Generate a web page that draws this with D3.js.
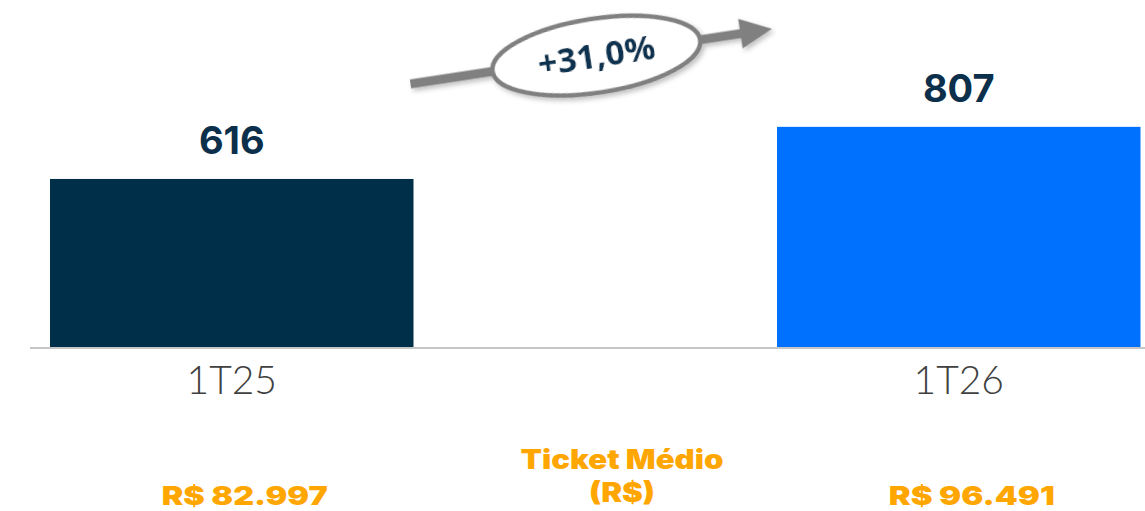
<!DOCTYPE html>
<html>
<head>
<meta charset="utf-8">
<script src="https://cdn.jsdelivr.net/npm/d3@7"></script>
<style>
  html, body { margin: 0; padding: 0; background: #ffffff; }
  svg { display: block; }
</style>
</head>
<body>
<svg id="chart" width="1145" height="511"></svg>
<script>
// Quarterly volume and average ticket
const categories = ["1T25", "1T26"];
const values = [616, 807];
const ticketValues = [82997, 96491];
const barColors = ["#003049", "#0070ff"];
const ticketTitle = ["Ticket Médio", "(R$)"];

const width = 1145, height = 511;
const svg = d3.select("#chart");

const ptBR = d3.formatLocale({ decimal: ",", thousands: ".", grouping: [3], currency: ["R$ ", ""] });
const fmtInt = ptBR.format(",d");
const fmtPct = ptBR.format("+.1f");

const baseY = 347;
const x = d3.scaleBand().domain(categories).range([50, 1140.5]).paddingInner(0.5).paddingOuter(0);
const y = d3.scaleLinear().domain([0, 1272]).range([baseY, 0]);

// drop shadow for the growth arrow
const defs = svg.append("defs");
const f = defs.append("filter").attr("id", "shadow").attr("x", "-20%").attr("y", "-50%").attr("width", "140%").attr("height", "200%");
f.append("feDropShadow").attr("dx", 2).attr("dy", 3).attr("stdDeviation", 2.5)
  .attr("flood-color", "#000").attr("flood-opacity", 0.25);

// bars
svg.selectAll("rect.bar").data(categories).join("rect")
  .attr("class", "bar")
  .attr("x", d => x(d))
  .attr("width", x.bandwidth())
  .attr("y", (d, i) => y(values[i]))
  .attr("height", (d, i) => y(0) - y(values[i]))
  .attr("fill", (d, i) => barColors[i]);

// baseline axis
const axis = d3.axisBottom(x).tickSize(0).tickPadding(18);
const gAxis = svg.append("g").attr("transform", `translate(0,${baseY + 1})`).call(axis);
gAxis.select(".domain").remove();
gAxis.append("line").attr("x1", 30).attr("x2", 1145).attr("y1", 0).attr("y2", 0)
  .attr("stroke", "#c6c6c6").attr("stroke-width", 2);
gAxis.selectAll(".tick text")
  .attr("font-family", "Lato, 'Open Sans', sans-serif")
  .attr("font-weight", 300)
  .attr("font-size", 39)
  .attr("fill", "#404040");

// value labels
svg.selectAll("text.val").data(categories).join("text")
  .attr("class", "val")
  .attr("x", d => x(d) + x.bandwidth() / 2)
  .attr("y", (d, i) => y(values[i]) - 25)
  .attr("text-anchor", "middle")
  .attr("font-family", "Inter, 'Open Sans', sans-serif")
  .attr("font-weight", 700)
  .attr("font-size", 38)
  .attr("fill", "#0c2f4b")
  .text((d, i) => fmtInt(values[i]));

// growth arrow between the bars
const x0 = x(categories[0]) + x.bandwidth() - 3, y0 = y(values[0]) - 95;
const x1 = x(categories[1]) - 5, y1 = y(values[1]) - 98;
const ang = Math.atan2(y1 - y0, x1 - x0);
const deg = ang * 180 / Math.PI;
const len = Math.hypot(x1 - x0, y1 - y0);
const g = svg.append("g").attr("filter", "url(#shadow)")
  .attr("transform", `translate(${x0},${y0}) rotate(${deg})`);
g.append("line").attr("x1", 0).attr("y1", 0).attr("x2", len - 28).attr("y2", 0)
  .attr("stroke", "#808080").attr("stroke-width", 9);
g.append("path")
  .attr("d", `M${len - 32},-15 L${len},0 L${len - 32},15 Z`)
  .attr("fill", "#808080");
const cx = 188, cy = 0;
g.append("ellipse").attr("cx", cx).attr("cy", cy).attr("rx", 105).attr("ry", 37)
  .attr("fill", "#ffffff").attr("stroke", "#808080").attr("stroke-width", 4.5);
g.append("text").attr("x", cx).attr("y", cy + 12)
  .attr("text-anchor", "middle")
  .attr("font-family", "'Open Sans', sans-serif")
  .attr("font-weight", 700)
  .attr("font-size", 34)
  .attr("fill", "#0b3350")
  .text(fmtPct((values[1] / values[0] - 1) * 100) + "%");

// average ticket block
const tf = "Inter, 'DejaVu Sans', sans-serif";
const orange = "#ffa600";
svg.append("text").attr("x", 622).attr("y", 469)
  .attr("text-anchor", "middle").attr("font-family", tf).attr("font-weight", 900)
  .attr("font-size", 27).attr("fill", orange)
  .attr("textLength", 203).attr("lengthAdjust", "spacingAndGlyphs")
  .text(ticketTitle[0]);
svg.append("text").attr("x", 622).attr("y", 502)
  .attr("text-anchor", "middle").attr("font-family", tf).attr("font-weight", 900)
  .attr("font-size", 27).attr("fill", orange)
  .attr("textLength", 66).attr("lengthAdjust", "spacingAndGlyphs")
  .text(ticketTitle[1]);
svg.selectAll("text.ticket").data(categories).join("text")
  .attr("class", "ticket")
  .attr("x", d => x(d) + x.bandwidth() / 2 + 13)
  .attr("y", 505)
  .attr("text-anchor", "middle")
  .attr("font-family", tf).attr("font-weight", 900)
  .attr("font-size", 26).attr("fill", orange)
  .attr("textLength", 166).attr("lengthAdjust", "spacingAndGlyphs")
  .text((d, i) => "R$ " + fmtInt(ticketValues[i]));
</script>
</body>
</html>
